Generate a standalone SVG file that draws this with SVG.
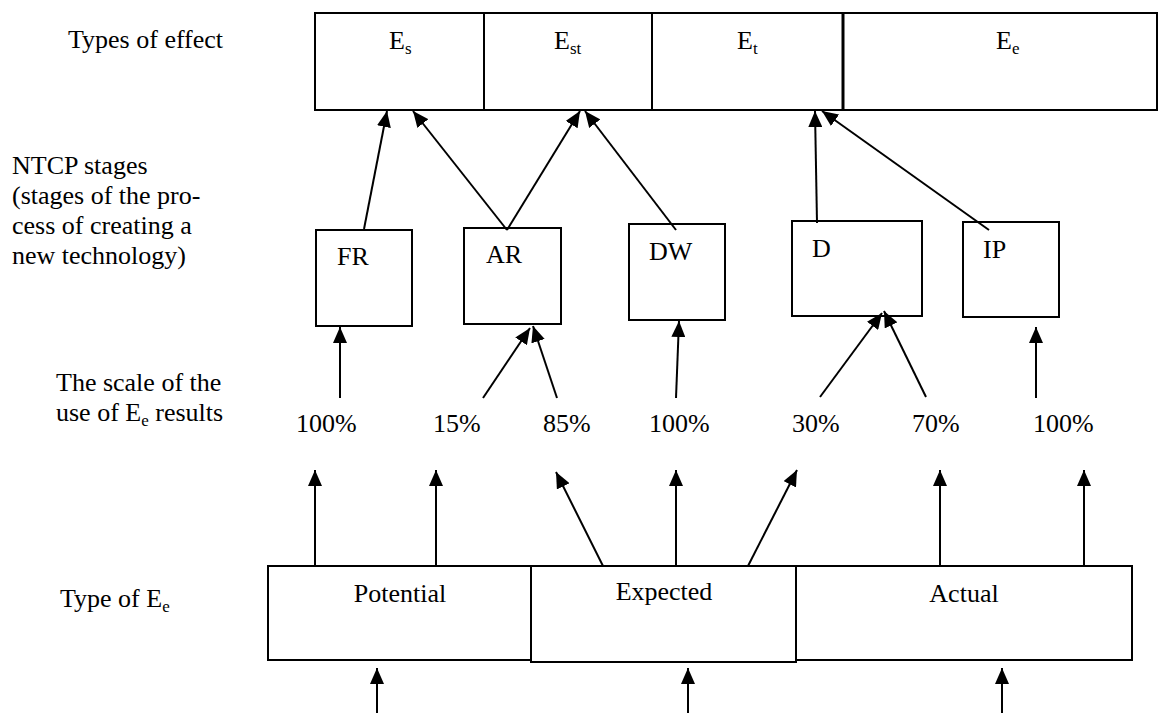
<svg xmlns="http://www.w3.org/2000/svg" width="1158" height="713" viewBox="0 0 1158 713">
<style>
text{font-family:"Liberation Serif","Times New Roman",serif;font-size:26px;fill:#000}
.sub{font-size:17px}
.box{fill:#fff;stroke:#000;stroke-width:2}
.c{stroke:#000;stroke-width:2;fill:none;marker-end:url(#ah)}
.mid{text-anchor:middle}
</style>
<defs>
<marker id="ah" markerUnits="userSpaceOnUse" markerWidth="16" markerHeight="14" refX="16" refY="7" orient="auto">
<path d="M0,0 L16,7 L0,14 z" fill="#000"/>
</marker>
</defs>
<rect width="1158" height="713" fill="#fff"/>
<g id="labels">
<text x="68" y="48">Types of effect</text>
<text x="12" y="174">NTCP stages</text>
<text x="12" y="204">(stages of the pro-</text>
<text x="12" y="234">cess of creating a</text>
<text x="12" y="264">new technology)</text>
<text x="56" y="391">The scale of the</text>
<text x="56" y="421">use of E<tspan class="sub" dy="5">e</tspan><tspan dy="-5"> results</tspan></text>
<text x="60" y="607">Type of E<tspan class="sub" dy="5">e</tspan></text>
</g>
<g id="effect-Es"><rect class="box" x="315" y="13" width="169" height="97"/><text x="389" y="49">E<tspan class="sub" dy="5">s</tspan></text></g>
<g id="effect-Est"><rect class="box" x="484" y="13" width="168" height="97"/><text x="554" y="49">E<tspan class="sub" dy="5">st</tspan></text></g>
<g id="effect-Et"><rect class="box" x="652" y="13" width="191" height="97"/><text x="737" y="49">E<tspan class="sub" dy="5">t</tspan></text></g>
<g id="effect-Ee"><rect class="box" x="843" y="13" width="314" height="97" style="stroke-width:2"/><line x1="843" y1="13" x2="843" y2="110" stroke="#000" stroke-width="3"/><text x="996" y="49">E<tspan class="sub" dy="5">e</tspan></text></g>
<g id="stage-FR"><rect class="box" x="316" y="230" width="96" height="96"/><text x="337" y="265">FR</text></g>
<g id="stage-AR"><rect class="box" x="464" y="228" width="97" height="96"/><text x="486" y="263">AR</text></g>
<g id="stage-DW"><rect class="box" x="629" y="224" width="96" height="96"/><text x="649" y="260">DW</text></g>
<g id="stage-D"><rect class="box" x="792" y="221" width="130" height="95"/><text x="812" y="257">D</text></g>
<g id="stage-IP"><rect class="box" x="963" y="222" width="96" height="95"/><text x="983" y="258">IP</text></g>
<g id="percents">
<text x="296" y="432">100%</text>
<text x="433" y="432">15%</text>
<text x="543" y="432">85%</text>
<text x="649" y="432">100%</text>
<text x="792" y="432">30%</text>
<text x="912" y="432">70%</text>
<text x="1033" y="432">100%</text>
</g>
<g id="type-Potential"><rect class="box" x="268" y="566" width="263" height="94"/><text class="mid" x="400" y="602">Potential</text></g>
<g id="type-Expected"><rect class="box" x="531" y="566" width="265" height="96"/><text class="mid" x="664" y="600">Expected</text></g>
<g id="type-Actual"><rect class="box" x="796" y="566" width="336" height="94"/><text class="mid" x="964" y="602">Actual</text></g>
<g id="connectors">
<line class="c" x1="364" y1="229" x2="387" y2="111"/>
<line class="c" x1="507" y1="230" x2="413" y2="111"/>
<line class="c" x1="507" y1="230" x2="580" y2="111"/>
<line class="c" x1="676" y1="230" x2="585" y2="111"/>
<line class="c" x1="817" y1="223" x2="815" y2="111"/>
<line class="c" x1="989" y1="230" x2="822" y2="111"/>
<line class="c" x1="340" y1="398" x2="340" y2="327"/>
<line class="c" x1="483" y1="398" x2="530" y2="328"/>
<line class="c" x1="557" y1="398" x2="533" y2="326"/>
<line class="c" x1="676" y1="398" x2="679" y2="321"/>
<line class="c" x1="820" y1="397" x2="882" y2="313"/>
<line class="c" x1="926" y1="397" x2="884" y2="311"/>
<line class="c" x1="1036" y1="398" x2="1036" y2="327"/>
<line class="c" x1="315" y1="566" x2="315" y2="470"/>
<line class="c" x1="436" y1="566" x2="436" y2="470"/>
<line class="c" x1="603" y1="566" x2="556" y2="472"/>
<line class="c" x1="676" y1="566" x2="676" y2="470"/>
<line class="c" x1="748" y1="566" x2="797" y2="470"/>
<line class="c" x1="940" y1="566" x2="940" y2="470"/>
<line class="c" x1="1084" y1="566" x2="1084" y2="470"/>
<line class="c" x1="377" y1="713" x2="377" y2="668"/>
<line class="c" x1="688" y1="713" x2="688" y2="668"/>
<line class="c" x1="1002" y1="713" x2="1002" y2="668"/>
</g>
</svg>
